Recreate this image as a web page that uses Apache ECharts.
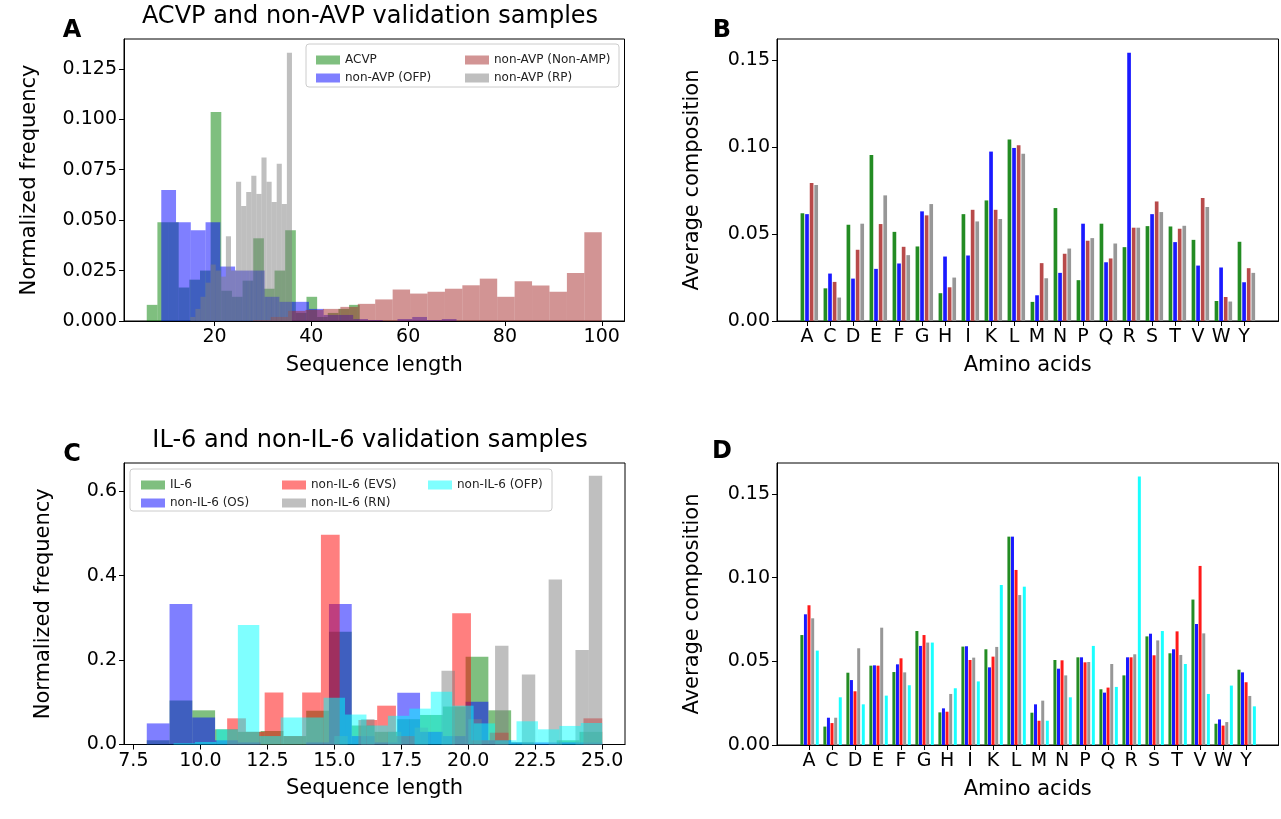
<!DOCTYPE html>
<html>
<head>
<meta charset="utf-8">
<title>validation samples</title>
<script src="https://cdn.jsdelivr.net/npm/echarts@6/dist/echarts.min.js"></script>
<style>
html, body { margin: 0; padding: 0; background: #fff; }
#main { width: 1281px; height: 819px; }
</style>
</head>
<body>
<div id="main"></div>
<script>
// ---- panel A: length histograms (bin start, bin width, heights) ----
var acvpStart = 6.0, acvpWidth = 2.2;
var acvpHist = [0.008, 0.049, 0.049, 0.0166, 0.0205, 0.025, 0.1036, 0.015, 0.012, 0.02,
                0.041, 0.016, 0.025, 0.045, 0.004, 0.012, 0.002, 0.004, 0.006, 0.008];
var ofpStart = 9.0, ofpWidth = 3.05;
var ofpHist = [0.065, 0.049, 0.045, 0.049, 0.027, 0.025, 0.025, 0.012, 0.0095, 0.0095,
               0.006, 0.003, 0.003, 0.001, 0.0005, 0, 0.001, 0.002, 0.0005, 0.001];
var nonAmpStart = 28.0, nonAmpWidth = 3.6;
var nonAmpHist = [0.0005, 0.002, 0.005, 0.0055, 0.006, 0.007, 0.0085, 0.0107, 0.0156, 0.0136,
                  0.0145, 0.016, 0.0177, 0.021, 0.012, 0.0197, 0.0176, 0.0145, 0.0238, 0.044];
var rpStart = 15.0, rpWidth = 1.05;
var rpHist = [0.002, 0.006, 0.012, 0.019, 0.028, 0.025, 0.022, 0.042, 0.025, 0.069,
              0.057, 0.064, 0.072, 0.063, 0.081, 0.069, 0.059, 0.078, 0.058, 0.133];

// ---- panel C: length histograms ----
var il6Start = 8.0, il6Width = 0.85;
var il6Hist = [0.01, 0.104, 0.081, 0.036, 0.03, 0.032, 0.02, 0.08, 0.267, 0.045,
               0.03, 0.06, 0.07, 0.09, 0.208, 0.081, 0.005, 0, 0.01, 0.03];
var osStart = 8.0, osWidth = 0.85;
var osHist = [0.05, 0.333, 0.064, 0.01, 0.005, 0, 0, 0.005, 0.333, 0.02,
              0.005, 0.1225, 0.03, 0.02, 0.101, 0.01, 0.005, 0.005, 0.005, 0.005];
var evsStart = 11.0, evsWidth = 0.7;
var evsHist = [0.062, 0.03, 0.123, 0.02, 0.123, 0.497, 0, 0.058, 0.092, 0.02,
               0, 0, 0.311, 0.01, 0.028, 0, 0, 0, 0, 0.062];
var rnStart = 15.0, rnWidth = 0.5;
var rnHist = [0.02, 0, 0.06, 0, 0.03, 0, 0.04, 0, 0.175, 0,
              0.06, 0, 0.234, 0, 0.166, 0, 0.391, 0, 0.224, 0.637];
var ofp6Start = 9.0, ofp6Width = 0.8;
var ofp6Hist = [0.003, 0.006, 0.036, 0.283, 0.02, 0.064, 0.064, 0.111, 0.071, 0.045,
                0.068, 0.085, 0.125, 0.092, 0.05, 0.01, 0.055, 0.036, 0.044, 0.051];

// ---- panels B and D: average composition ----
var aminoAcids = ['A','C','D','E','F','G','H','I','K','L','M','N','P','Q','R','S','T','V','W','Y'];
var acvpComp   = [0.062, 0.0188, 0.0554, 0.0956, 0.0513, 0.0429, 0.016, 0.0615, 0.0694, 0.1044,
                  0.011, 0.065, 0.0235, 0.056, 0.0425, 0.0546, 0.0544, 0.0467, 0.0115, 0.0456];
var ofpComp    = [0.0615, 0.0273, 0.0244, 0.030, 0.0331, 0.0631, 0.0371, 0.0377, 0.0975, 0.0996,
                  0.0148, 0.0277, 0.056, 0.0338, 0.1544, 0.0615, 0.0454, 0.0319, 0.0308, 0.0223];
var nonAmpComp = [0.0794, 0.0225, 0.041, 0.0558, 0.0427, 0.0608, 0.0194, 0.064, 0.064, 0.1012,
                  0.0333, 0.0387, 0.0462, 0.036, 0.0537, 0.0688, 0.0531, 0.0708, 0.0138, 0.0304];
var rpComp     = [0.0783, 0.0135, 0.056, 0.0723, 0.0379, 0.0673, 0.025, 0.0573, 0.0587, 0.0963,
                  0.0246, 0.0417, 0.0477, 0.0446, 0.0537, 0.0627, 0.0548, 0.0656, 0.0112, 0.0277];

var il6Comp  = [0.0657, 0.011, 0.0432, 0.0474, 0.0436, 0.0681, 0.0195, 0.0588, 0.0572, 0.1245,
                0.0193, 0.0508, 0.0524, 0.0333, 0.0416, 0.0649, 0.0548, 0.0869, 0.0127, 0.045];
var osComp   = [0.0781, 0.0163, 0.0388, 0.0476, 0.0482, 0.0592, 0.0219, 0.059, 0.0464, 0.1245,
                0.0243, 0.0456, 0.0524, 0.0313, 0.0524, 0.0665, 0.0572, 0.0723, 0.0153, 0.0434];
var evsComp  = [0.0835, 0.0131, 0.0321, 0.0474, 0.0518, 0.0657, 0.0199, 0.0508, 0.0528, 0.1046,
                0.0145, 0.0506, 0.0494, 0.0343, 0.0524, 0.0536, 0.0679, 0.107, 0.0116, 0.0375];
var rnComp   = [0.0757, 0.0163, 0.0578, 0.0701, 0.0434, 0.0612, 0.0305, 0.0522, 0.0586, 0.0896,
                0.0265, 0.0416, 0.0496, 0.0484, 0.0542, 0.0625, 0.0538, 0.0667, 0.0137, 0.0293];
var ofp6Comp = [0.0564, 0.0285, 0.0243, 0.0295, 0.0357, 0.0612, 0.0339, 0.038, 0.0956, 0.0946,
                0.0145, 0.0285, 0.0592, 0.0347, 0.1604, 0.0681, 0.0484, 0.0305, 0.0355, 0.0231];

// tick values
var ticksAx = [20, 40, 60, 80, 100];
var ticksAy = [0, 0.025, 0.05, 0.075, 0.1, 0.125];
var ticksCx = [7.5, 10, 12.5, 15, 17.5, 20, 22.5, 25];
var ticksCy = [0, 0.2, 0.4, 0.6];
var ticksBy = [0, 0.05, 0.1, 0.15];
var letterTicks = aminoAcids.map(function (a, i) { return i; });

var FONT = 'DejaVu Sans';

// histogram -> [x0, x1, height]
function hist(start, width, vals) {
    return vals.map(function (v, i) { return [start + i * width, start + (i + 1) * width, v]; });
}
// grouped bars -> [x0, x1, height]
function bars(vals, offset, w) {
    return vals.map(function (v, i) { return [i + offset - w / 2, i + offset + w / 2, v]; });
}

function renderRect(params, api) {
    var p0 = api.coord([api.value(0), api.value(2)]);
    var p1 = api.coord([api.value(1), 0]);
    return {
        type: 'rect',
        shape: { x: p0[0], y: p0[1], width: p1[0] - p0[0], height: p1[1] - p0[1] },
        style: { fill: api.visual('color') }
    };
}

function series(name, idx, color, data) {
    return {
        name: name, type: 'custom', xAxisIndex: idx, yAxisIndex: idx,
        renderItem: renderRect, encode: { x: [0, 1], y: 2 },
        itemStyle: { color: color }, data: data, silent: true, animation: false
    };
}

function xAxis(idx, min, max, ticks, fmt, name) {
    return {
        type: 'value', gridIndex: idx, min: min, max: max,
        name: name, nameLocation: 'middle', nameGap: 34,
        nameTextStyle: { fontFamily: FONT, fontSize: 21, color: '#000' },
        axisLine: { show: true, onZero: false, lineStyle: { color: '#000', width: 1 } },
        axisTick: { show: true, inside: false, length: 5, customValues: ticks, lineStyle: { color: '#000' } },
        axisLabel: { customValues: ticks, formatter: fmt, margin: 7, fontFamily: FONT, fontSize: 19, color: '#000' },
        splitLine: { show: false }
    };
}
function yAxis(idx, max, ticks, fmt, name, gap) {
    return {
        type: 'value', gridIndex: idx, min: 0, max: max,
        name: name, nameLocation: 'middle', nameGap: gap,
        nameTextStyle: { fontFamily: FONT, fontSize: 21, color: '#000' },
        axisLine: { show: true, onZero: false, lineStyle: { color: '#000', width: 1 } },
        axisTick: { show: true, inside: false, length: 5, customValues: ticks, lineStyle: { color: '#000' } },
        axisLabel: { customValues: ticks, formatter: fmt, margin: 7, fontFamily: FONT, fontSize: 19, color: '#000' },
        splitLine: { show: false }
    };
}

var gA = 'rgba(0,128,0,0.5)', bA = 'rgba(0,0,255,0.5)', brA = 'rgba(165,42,42,0.5)', grA = 'rgba(128,128,128,0.5)';
var rC = 'rgba(255,0,0,0.5)', cC = 'rgba(0,255,255,0.5)';

var bOff = [-0.2, 0, 0.2, 0.4], bW = 0.16;
var dOff = [-0.31, -0.155, 0, 0.16, 0.36], dW = 0.13;

function legend(names, left, top) {
    return {
        data: names, orient: 'vertical', left: left, top: top, itemGap: 4,
        itemWidth: 24, itemHeight: 9, icon: 'rect', z: 6,
        textStyle: { fontFamily: FONT, fontSize: 12, color: '#222', lineHeight: 14 },
        selectedMode: false
    };
}

var chart = echarts.init(document.getElementById('main'), null, { renderer: 'canvas' });
var option = {
    backgroundColor: '#fff',
    animation: false,
    grid: [
        { left: 124, top: 39, width: 500.5, height: 282, show: true, borderColor: '#000', borderWidth: 1 },
        { left: 777, top: 39, width: 501.5, height: 282, show: true, borderColor: '#000', borderWidth: 1 },
        { left: 124, top: 463, width: 501, height: 281.5, show: true, borderColor: '#000', borderWidth: 1 },
        { left: 777, top: 463, width: 501.5, height: 282, show: true, borderColor: '#000', borderWidth: 1 }
    ],
    xAxis: [
        xAxis(0, 1.3, 104.7, ticksAx, function (v) { return String(v); }, 'Sequence length'),
        xAxis(1, -1.304, 20.496, letterTicks, function (v) { return aminoAcids[Math.round(v)]; }, 'Amino acids'),
        xAxis(2, 7.15, 25.85, ticksCx, function (v) { return v.toFixed(1); }, 'Sequence length'),
        xAxis(3, -1.391, 20.409, letterTicks, function (v) { return aminoAcids[Math.round(v)]; }, 'Amino acids')
    ],
    yAxis: [
        yAxis(0, 0.1398, ticksAy, function (v) { return v.toFixed(3); }, 'Normalized frequency', 84),
        yAxis(1, 0.1623, ticksBy, function (v) { return v.toFixed(2); }, 'Average composition', 74),
        yAxis(2, 0.667, ticksCy, function (v) { return v.toFixed(1); }, 'Normalized frequency', 70),
        yAxis(3, 0.1685, ticksBy, function (v) { return v.toFixed(2); }, 'Average composition', 74)
    ],
    legend: [
        legend(['ACVP', 'non-AVP (OFP)'], 311, 48),
        legend(['non-AVP (Non-AMP)', 'non-AVP (RP)'], 460, 48),
        legend(['IL-6', 'non-IL-6 (OS)'], 136, 473),
        legend(['non-IL-6 (EVS)', 'non-IL-6 (RN)'], 277, 473),
        legend(['non-IL-6 (OFP)'], 423, 473)
    ],
    graphic: [
        { type: 'rect', z: 3, shape: { x: 306, y: 44, width: 313, height: 43, r: 3 }, style: { fill: 'rgba(255,255,255,0.8)', stroke: '#cccccc', lineWidth: 1 } },
        { type: 'rect', z: 3, shape: { x: 130, y: 469, width: 422, height: 42, r: 3 }, style: { fill: 'rgba(255,255,255,0.8)', stroke: '#cccccc', lineWidth: 1 } },
        { type: 'text', x: 370, y: 17, style: { text: 'ACVP and non-AVP validation samples', font: '24px "DejaVu Sans"', fill: '#000', textAlign: 'center', textVerticalAlign: 'middle' } },
        { type: 'text', x: 370, y: 441, style: { text: 'IL-6 and non-IL-6 validation samples', font: '24px "DejaVu Sans"', fill: '#000', textAlign: 'center', textVerticalAlign: 'middle' } },
        { type: 'text', x: 72, y: 31, style: { text: 'A', font: 'bold 24px "DejaVu Sans"', fill: '#000', textAlign: 'center', textVerticalAlign: 'middle' } },
        { type: 'text', x: 722, y: 31, style: { text: 'B', font: 'bold 24px "DejaVu Sans"', fill: '#000', textAlign: 'center', textVerticalAlign: 'middle' } },
        { type: 'text', x: 72, y: 455, style: { text: 'C', font: 'bold 24px "DejaVu Sans"', fill: '#000', textAlign: 'center', textVerticalAlign: 'middle' } },
        { type: 'text', x: 722, y: 452, style: { text: 'D', font: 'bold 24px "DejaVu Sans"', fill: '#000', textAlign: 'center', textVerticalAlign: 'middle' } }
    ],
    series: [
        series('ACVP', 0, gA, hist(acvpStart, acvpWidth, acvpHist)),
        series('non-AVP (OFP)', 0, bA, hist(ofpStart, ofpWidth, ofpHist)),
        series('non-AVP (Non-AMP)', 0, brA, hist(nonAmpStart, nonAmpWidth, nonAmpHist)),
        series('non-AVP (RP)', 0, grA, hist(rpStart, rpWidth, rpHist)),

        series('B-ACVP', 1, '#238c23', bars(acvpComp, bOff[0], bW)),
        series('B-OFP', 1, '#1a1aff', bars(ofpComp, bOff[1], bW)),
        series('B-NonAMP', 1, '#b84a4a', bars(nonAmpComp, bOff[2], bW)),
        series('B-RP', 1, '#979797', bars(rpComp, bOff[3], bW)),

        series('IL-6', 2, gA, hist(il6Start, il6Width, il6Hist)),
        series('non-IL-6 (OS)', 2, bA, hist(osStart, osWidth, osHist)),
        series('non-IL-6 (EVS)', 2, rC, hist(evsStart, evsWidth, evsHist)),
        series('non-IL-6 (RN)', 2, grA, hist(rnStart, rnWidth, rnHist)),
        series('non-IL-6 (OFP)', 2, cC, hist(ofp6Start, ofp6Width, ofp6Hist)),

        series('D-IL6', 3, '#238c23', bars(il6Comp, dOff[0], dW)),
        series('D-OS', 3, '#1a1aff', bars(osComp, dOff[1], dW)),
        series('D-EVS', 3, '#ff1a1a', bars(evsComp, dOff[2], dW)),
        series('D-RN', 3, '#979797', bars(rnComp, dOff[3], dW)),
        series('D-OFP', 3, '#1affff', bars(ofp6Comp, dOff[4], dW))
    ]
};
chart.setOption(option);
</script>
</body>
</html>
